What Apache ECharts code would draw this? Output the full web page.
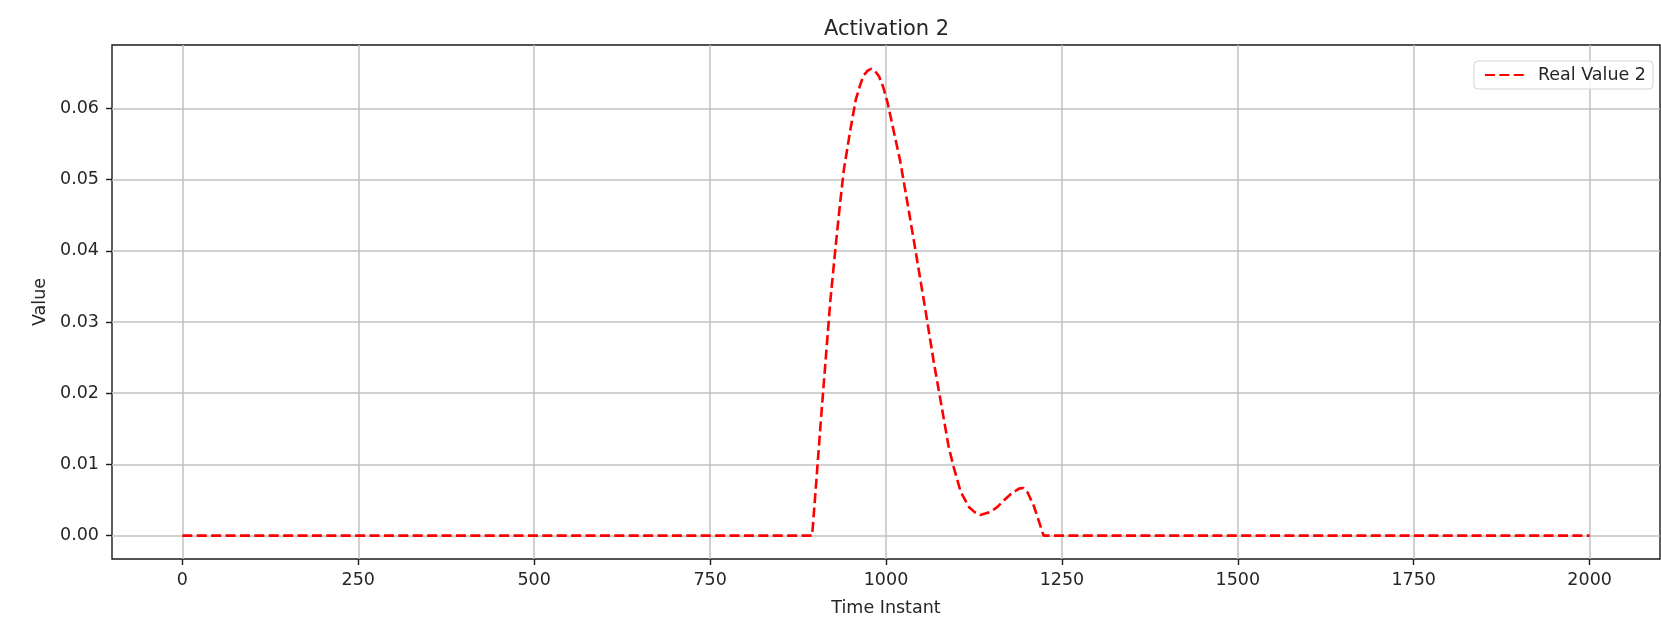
<!DOCTYPE html>
<html>
<head>
<meta charset="utf-8">
<script src="https://cdn.jsdelivr.net/npm/echarts@6/dist/echarts.min.js"></script>
<style>
  html, body { margin: 0; padding: 0; background: #ffffff; }
  #chart { width: 1661px; height: 622px; }
</style>
</head>
<body>
<div id="chart"></div>
<script>
// ---- data ----
const timeInstant = [0, 895, 900, 907, 914, 921, 928, 935, 940, 949, 957, 963, 968, 974, 979, 984, 990, 996, 1002, 1009, 1020, 1030, 1042, 1056, 1068, 1077, 1089, 1096, 1106, 1118, 1126, 1134, 1148, 1158, 1167, 1178, 1189, 1195, 1201, 1210, 1219, 1224, 2000];
const realValue2 = [0, 0, 0.0064, 0.0156, 0.0244, 0.0331, 0.0402, 0.0469, 0.0513, 0.0568, 0.0612, 0.0632, 0.0646, 0.0653, 0.06555, 0.0653, 0.0645, 0.0630, 0.0609, 0.0577, 0.0527, 0.0470, 0.0400, 0.0317, 0.0243, 0.0193, 0.0125, 0.0097, 0.0062, 0.0040, 0.0033, 0.0029, 0.0033, 0.0040, 0.0049, 0.0059, 0.0066, 0.0067, 0.0061, 0.0042, 0.0015, 0, 0];
const xTicks = [0, 250, 500, 750, 1000, 1250, 1500, 1750, 2000];
const yTicks = [0, 0.01, 0.02, 0.03, 0.04, 0.05, 0.06];
const seriesName = 'Real Value 2';
const chartTitle = 'Activation 2';

const seriesData = timeInstant.map((t, i) => [t, realValue2[i]]);

const FONT = '"DejaVu Sans", sans-serif';
const TXT = '#262626';

const chart = echarts.init(document.getElementById('chart'), null, { renderer: 'canvas' });
chart.setOption({
  animation: false,
  backgroundColor: '#ffffff',
  title: {
    text: chartTitle,
    left: 819,
    top: 14,
    textStyle: { fontFamily: FONT, fontSize: 21, fontWeight: 'normal', color: TXT }
  },
  legend: {
    data: [seriesName],
    right: 8,
    top: 61,
    orient: 'vertical',
    padding: [5, 7, 5, 10],
    itemWidth: 39,
    itemHeight: 17,
    backgroundColor: 'rgba(255,255,255,0.85)',
    borderColor: '#d4d4d4',
    borderWidth: 1,
    borderRadius: 4,
    itemStyle: { opacity: 0 },
    textStyle: { fontFamily: FONT, fontSize: 17.5, color: TXT, padding: [0, 0, 0, 9] }
  },
  grid: {
    left: 112,
    right: 1,
    top: 45,
    bottom: 62,
    show: true,
    borderColor: '#1a1a1a',
    borderWidth: 1.4,
    backgroundColor: 'transparent'
  },
  xAxis: {
    type: 'value',
    min: -100,
    max: 2100,
    name: 'Time Instant',
    nameLocation: 'middle',
    nameGap: 40,
    nameTextStyle: { fontFamily: FONT, fontSize: 17.5, color: TXT },
    axisLine: { show: false, onZero: false },
    axisTick: { show: true, inside: false, length: 6, customValues: xTicks, lineStyle: { color: '#1a1a1a', width: 1.4 } },
    axisLabel: { customValues: xTicks, margin: 12, fontFamily: FONT, fontSize: 17.5, color: TXT, formatter: v => String(v) },
    splitLine: { show: true, lineStyle: { color: '#c2c2c2', width: 1.5 } }
  },
  yAxis: {
    type: 'value',
    min: -0.00328,
    max: 0.0689,
    name: 'Value',
    nameLocation: 'middle',
    nameGap: 62,
    nameTextStyle: { fontFamily: FONT, fontSize: 17.5, color: TXT },
    axisLine: { show: false, onZero: false },
    axisTick: { show: true, inside: false, length: 6, customValues: yTicks, lineStyle: { color: '#1a1a1a', width: 1.4 } },
    axisLabel: { customValues: yTicks, margin: 13, fontFamily: FONT, fontSize: 17.5, color: TXT, formatter: v => v.toFixed(2) },
    splitLine: { show: true, lineStyle: { color: '#c2c2c2', width: 1.5 } }
  },
  series: [{
    name: seriesName,
    type: 'line',
    data: seriesData,
    symbol: 'none',
    showSymbol: false,
    smooth: false,
    lineStyle: { color: '#ff0000', width: 2.6, type: [10, 4.4] },
    itemStyle: { color: '#ff0000' }
  }]
});
</script>
</body>
</html>
